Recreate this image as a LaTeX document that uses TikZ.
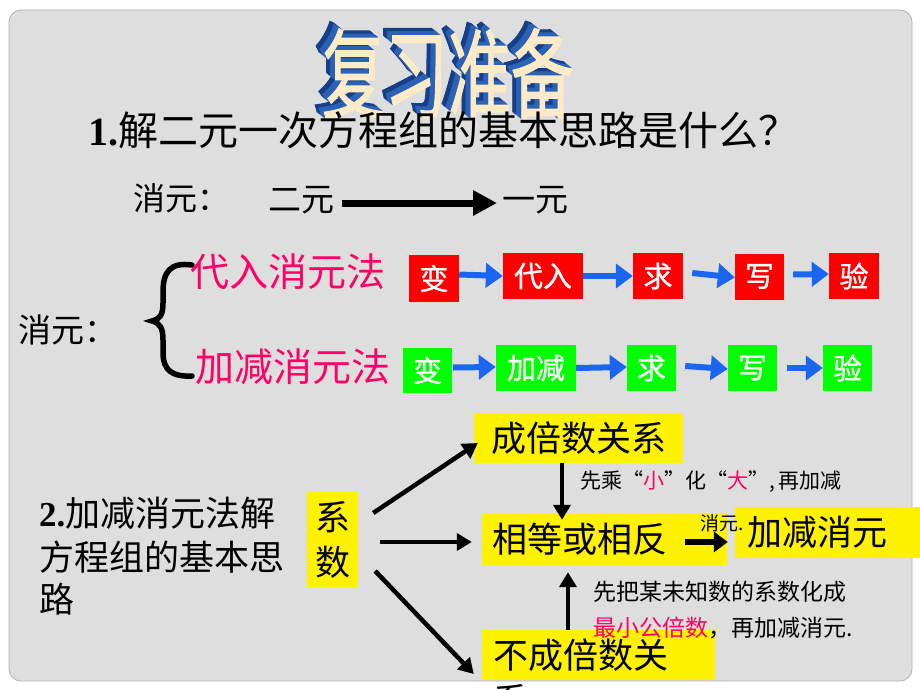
\documentclass[tikz,border=0pt]{standalone}
\usepackage{fontspec}
\setmainfont{Liberation Serif}
\newfontfamily\cjk{Noto Sans CJK SC}
\newfontfamily\cjkfb[FakeBold=1.3]{Noto Sans CJK SC}
\newfontfamily\cjkmb[FakeBold=1]{Noto Sans CJK SC}
\usetikzlibrary{arrows.meta}
\definecolor{bg}{HTML}{DEDEDE}
\definecolor{pinkt}{HTML}{FF0066}
\definecolor{redbox}{HTML}{FF0000}
\definecolor{greenbox}{HTML}{00FF00}
\definecolor{bluearr}{HTML}{1A66F0}
\definecolor{waone}{HTML}{163F87}
\definecolor{watwo}{HTML}{2C62B5}
\definecolor{waface}{HTML}{FCEBC6}
\newcommand\fs[1]{\fontsize{#1}{#1}\selectfont}
\newcommand\wordart{\scalebox{0.9}[1.4]{复习准备}}
\newcommand\walayer[3]{\rlap{\hspace*{#1pt}\raisebox{#2pt}{\color{#3}\wordart}}}
\begin{document}
\begin{tikzpicture}[x=1pt,y=-1pt,
  txt/.style={inner sep=0pt, anchor=west},
  rbox/.style={fill=redbox, text=white, inner sep=0pt, minimum height=46pt, font=\cjkmb\fs{29}},
  gbox/.style={fill=greenbox, text=white, inner sep=0pt, minimum height=46pt, font=\cjkmb\fs{29}},
  barr/.style={draw=bluearr, line width=6pt, -{Triangle[length=17pt,width=24pt]}},
  karr/.style={draw=black, line width=4.5pt, -{Triangle[length=15pt,width=17pt]}},
  ybox/.style={fill=yellow, inner sep=0pt, font=\cjk\fs{35}}]
\useasboundingbox (0,0) rectangle (920,690);
\fill[white] (0,0) rectangle (920,690);
\draw[fill=bg, draw=gray!60, line width=0.8pt, rounded corners=12pt] (9,10) rectangle (912,681);

% title (WordArt with extrusion, one text)
\node[inner sep=0pt, font=\cjkfb\fs{70}] (title) at (448,70) {%
\walayer{-9}{7.2}{waone}\walayer{-8}{6.4}{waone}\walayer{-7}{5.6}{waone}\walayer{-6}{4.8}{waone}%
\walayer{-5}{4}{watwo}\walayer{-4}{3.2}{watwo}\walayer{-3}{2.4}{watwo}\walayer{-2}{1.6}{watwo}\walayer{-1}{0.8}{watwo}%
{\color{waface}\wordart}};

% question 1
\node[txt] (q1) at (88,130) {{\bfseries\fs{40}1.}{\cjk\fs{40}解二元一次方程组的基本思路是什么？}};
\node[txt, font=\cjk\fs{32}] (xy1) at (133,198) {消元：};
\node[txt, font=\cjk\fs{33}] (er) at (268,200) {二元};
\node[txt, font=\cjk\fs{33}] (yi) at (502,200) {一元};
\draw[draw=black, line width=7pt, -{Triangle[length=24pt,width=24pt]}] ([xshift=8pt,yshift=-3pt]er.east) -- ([xshift=-5pt,yshift=-3pt]yi.west);

\node[txt, font=\cjk\fs{33}] (xy2) at (18,330) {消元：};
\draw[line width=5.5pt, line cap=round] (192,265) .. controls (170,262) and (163,272) .. (163,292) -- (163,303) .. controls (163,315) and (160,319) .. (152,321) .. controls (160,323) and (163,328) .. (163,340) -- (163,353) .. controls (163,370) and (172,377) .. (192,376);
\node[txt, font=\cjk\fs{39}, text=pinkt] (dr) at (190,272) {代入消元法};
\node[txt, font=\cjk\fs{39}, text=pinkt] (jjf) at (195,367) {加减消元法};

% red row
\node[rbox, minimum width=50pt, minimum height=47pt] (r1) at (434,278.5) {变};
\node[rbox, minimum width=80pt] (r2) at (543,276) {代入};
\node[rbox, minimum width=50pt] (r3) at (658,276) {求};
\node[rbox, minimum width=49pt] (r4) at (759.5,276.5) {写};
\node[rbox, minimum width=50pt] (r5) at (854,276) {验};
\draw[barr] ([yshift=4pt]r1.east) -- (r2.west);
\draw[barr] (r2.east) -- (r3.west);
\draw[barr] ([xshift=9pt,yshift=3pt]r3.east) -- ([yshift=-1pt]r4.west);
\draw[barr] ([xshift=9pt,yshift=2pt]r4.east) -- ([yshift=2pt]r5.west);

% green row
\node[gbox, minimum width=49pt, minimum height=45pt] (g1) at (427.5,370.5) {变};
\node[gbox, minimum width=80pt] (g2) at (536,368) {加减};
\node[gbox, minimum width=49pt] (g3) at (651.5,368) {求};
\node[gbox, minimum width=49pt] (g4) at (752.5,368) {写};
\node[gbox, minimum width=49pt] (g5) at (847.5,368) {验};
\draw[barr] ([xshift=1pt,yshift=3pt]g1.east) -- ([yshift=1pt]g2.west);
\draw[barr] (g2.east) -- ([yshift=1pt]g3.west);
\draw[barr] ([xshift=9pt,yshift=2pt]g3.east) -- ([yshift=-1pt]g4.west);
\draw[barr] ([xshift=10pt]g4.east) -- (g5.west);

% part 2
\node[txt] (p2a) at (39,513) {{\bfseries\fs{35}2.}{\cjk\fs{35}加减消元法解}};
\node[txt, font=\cjk\fs{35}] (p2b) at (39,557) {方程组的基本思};
\node[txt, font=\cjk\fs{35}] (p2c) at (39,599) {路};

\node[ybox, minimum width=51pt, minimum height=95pt, align=center, font=\cjk\fontsize{35}{45}\selectfont] (xs) at (332.5,539.5) {系\\数};
\node[ybox, minimum width=209pt, minimum height=50pt] (cb) at (578.5,438) {成倍数关系};
\node[ybox, inner xsep=10pt, text width=225pt, align=left, minimum height=52pt] (xd) at (604.5,539) {相等或相反};
\node[ybox, inner xsep=12pt, text width=161pt, align=left, minimum height=51pt] (jj) at (827.5,532.5) {加减消元};
\node[ybox, inner xsep=11pt, text width=211pt, align=left, minimum height=50pt] (bc) at (598.5,655) {不成倍数关};
\node[txt, font=\cjk\fs{35}] (bcx) at (493,700) {系};

\draw[karr] ([xshift=15pt,yshift=26.5pt]xs.east) -- ([xshift=4pt,yshift=-5pt]cb.west);
\draw[karr] ([xshift=22pt,yshift=-2.5pt]xs.east) -- ([xshift=-10pt,yshift=-3pt]xd.west);
\draw[karr] ([xshift=17pt,yshift=-31.5pt]xs.east) -- ([xshift=-8pt,yshift=-19pt]bc.west);
\draw[karr] ([xshift=-16.5pt]cb.south) -- ([xshift=-42.5pt,yshift=-7pt]xd.north);
\draw[karr] ([xshift=-30.5pt]bc.north) -- ([xshift=-36.5pt,yshift=-7pt]xd.south);
\draw[draw=black, line width=6pt, -{Triangle[length=14pt,width=20pt]}] ([xshift=-42pt,yshift=-3pt]xd.east) -- ([xshift=-7pt,yshift=-9.5pt]jj.west);

\node[txt, font=\cjk\fs{21}] (n1) at (580,482) {先乘“{\color{pinkt}小}”化“{\color{pinkt}大}”,\,再加减};
\node[txt, font=\cjk\fs{19}] (n2) at (700,523) {消元.};
\node[txt, font=\cjk\fs{23}] (n3) at (593,592) {先把某未知数的系数化成};
\node[txt, font=\cjk\fs{23}] (n4) at (593,628) {{\color{pinkt}最小公倍数}，再加减消元.};
\end{tikzpicture}
\end{document}
